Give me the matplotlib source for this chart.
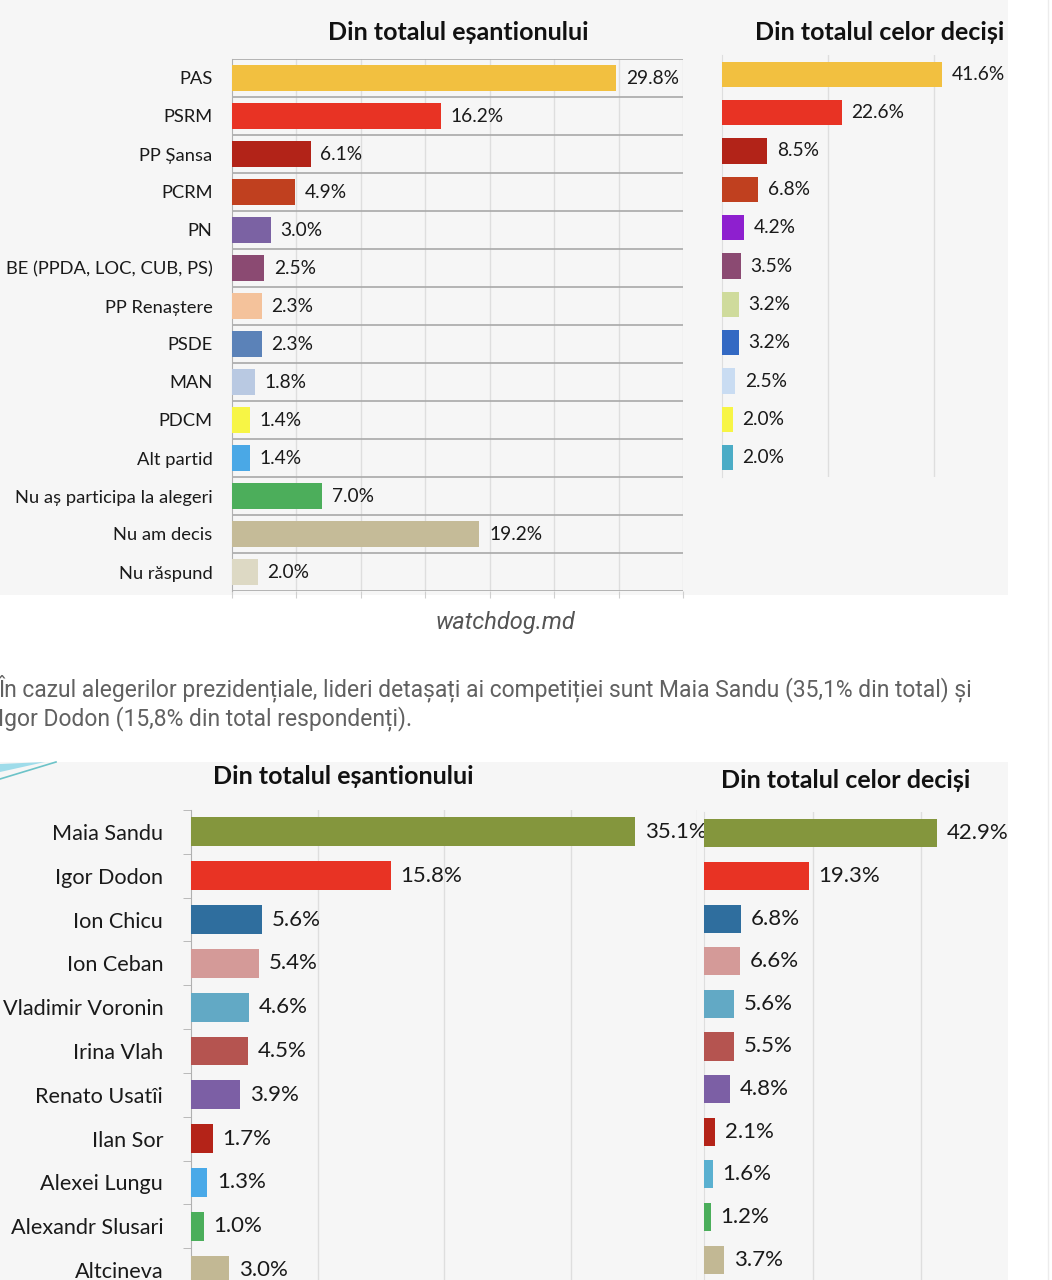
import matplotlib.pyplot as plt
from matplotlib.lines import Line2D
from matplotlib.patches import Rectangle, Polygon

W, H = 1052, 1280

# --- data ---------------------------------------------------------------
party_labels = ["PAS", "PSRM", "PP Șansa", "PCRM", "PN", "BE (PPDA, LOC, CUB, PS)",
                "PP Renaștere", "PSDE", "MAN", "PDCM", "Alt partid",
                "Nu aș participa la alegeri", "Nu am decis", "Nu răspund"]
party_total = [29.8, 16.2, 6.1, 4.9, 3.0, 2.5, 2.3, 2.3, 1.8, 1.4, 1.4, 7.0, 19.2, 2.0]
party_total_colors = ["#f2c040", "#e83324", "#b22318", "#c0401f", "#7b62a3", "#8b4a72",
                      "#f4c29b", "#5b82b8", "#b9c9e2", "#f7f545", "#4aa8e6", "#4cae5b",
                      "#c5bb98", "#ddd9c4"]

party_decided = [41.6, 22.6, 8.5, 6.8, 4.2, 3.5, 3.2, 3.2, 2.5, 2.0, 2.0]
party_decided_colors = ["#f2c040", "#e83324", "#b22318", "#c0401f", "#8e1fcf", "#8b4a72",
                        "#cfdb9c", "#3369c3", "#c9dcf2", "#f7f545", "#4bacc6"]

cand_labels = ["Maia Sandu", "Igor Dodon", "Ion Chicu", "Ion Ceban", "Vladimir Voronin",
               "Irina Vlah", "Renato Usatîi", "Ilan Sor", "Alexei Lungu",
               "Alexandr Slusari", "Altcineva"]
cand_total = [35.1, 15.8, 5.6, 5.4, 4.6, 4.5, 3.9, 1.7, 1.3, 1.0, 3.0]
cand_decided = [42.9, 19.3, 6.8, 6.6, 5.6, 5.5, 4.8, 2.1, 1.6, 1.2, 3.7]
cand_colors = ["#84963d", "#e83324", "#2f6e9e", "#d49a98", "#62a9c5", "#b55450",
               "#7c5fa5", "#b42318", "#49a9e8", "#4bae5b", "#c2b894"]
cand_decided_colors = ["#84963d", "#e83324", "#2f6e9e", "#d49a98", "#62a9c5", "#b55450",
                       "#7c5fa5", "#b42318", "#5ab0d0", "#4bae5b", "#c2b894"]

title_total = "Din totalul eșantionului"
title_decided = "Din totalul celor deciși"
source = "watchdog.md"
paragraph = ["În cazul alegerilor prezidențiale, lideri detașați ai competiției sunt Maia Sandu (35,1% din total) și",
             "Igor Dodon (15,8% din total respondenți)."]

plt.rcParams['font.family'] = ['Lato', 'DejaVu Sans']

fig = plt.figure(figsize=(W / 100, H / 100), dpi=100)
fig.patch.set_facecolor("white")


def px_axes(x0, y0, x1, y1):
    ax = fig.add_axes([x0 / W, 1 - y1 / H, (x1 - x0) / W, (y1 - y0) / H])
    ax.patch.set_alpha(0)
    return ax


def fig_text(x, y, s, **kw):
    fig.text(x / W, 1 - y / H, s, **kw)


# grey backgrounds of the two screenshots
fig.add_artist(Rectangle((0, 1 - 595 / H), 1008 / W, 595 / H, transform=fig.transFigure,
                         facecolor="#f6f6f6", edgecolor="none", zorder=0))
fig.add_artist(Rectangle((0, 0), 1008 / W, (H - 762) / H, transform=fig.transFigure,
                         facecolor="#f6f6f6", edgecolor="none", zorder=0))
fig.add_artist(Line2D([1048 / W, 1048 / W], [0, 1], transform=fig.transFigure,
                      color="#ececec", lw=1))


def bars(ax, values, colors, labels, xmax, step, height, fs, vfs, sep=False, grid_col="#dedede"):
    n = len(values)
    y = list(range(n))
    ax.barh(y, values, height=height, color=colors, zorder=3)
    ax.set_xlim(0, xmax)
    ax.set_ylim(n - 0.5, -0.5)
    for gx in range(step, int(xmax) + 1, step):
        ax.axvline(gx, color=grid_col, lw=1, zorder=1)
    if sep:
        for b in range(n + 1):
            ax.axhline(b - 0.5, color="#a9a9a9", lw=1.2, zorder=2)
    for yi, v in zip(y, values):
        ax.annotate(f"{v:.1f}%", (v, yi), xytext=(7, 0), textcoords="offset points",
                    va="center", ha="left", fontsize=vfs, color="#1a1a1a", zorder=4)
    for s in ["top", "right", "bottom"]:
        ax.spines[s].set_visible(False)
    ax.spines["left"].set_color("#b0b0b0")
    ax.set_xticks([])
    if labels:
        ax.set_yticks(y)
        ax.set_yticklabels(labels, fontsize=fs, color="#1a1a1a")
    else:
        ax.set_yticks([])
    ax.tick_params(axis="y", length=0)


# top-left: parties, whole sample
ax1 = px_axes(232, 59, 683, 591)
bars(ax1, party_total, party_total_colors, party_labels, 35, 5, 0.66, 13.2, 13.8, sep=True)
ax1.tick_params(axis="y", pad=14)
ax1.set_xticks(range(0, 36, 5))
ax1.set_xticklabels([])
ax1.tick_params(axis="x", length=5, color="#cfcfcf")

# top-right: parties, decided voters
ax2 = px_axes(722, 55, 1008, 477)
bars(ax2, party_decided, party_decided_colors, None, 54, 20, 0.66, 13.2, 13.8)
ax2.spines["left"].set_color("#dedede")

fig_text(458, 33, title_total, ha="center", va="center", fontsize=18, fontweight="bold", color="#111111")
fig_text(880, 33, title_decided, ha="center", va="center", fontsize=18, fontweight="bold", color="#111111")

# article text between the charts
fig_text(505, 623, source, ha="center", va="center", fontsize=17, style="italic",
         color="#555555", family=["Roboto", "DejaVu Sans"])
fig_text(-2, 688, paragraph[0], ha="left", va="center", fontsize=16.5,
         color="#616161", family=["Roboto", "DejaVu Sans"])
fig_text(-2, 719, paragraph[1], ha="left", va="center", fontsize=16.5,
         color="#616161", family=["Roboto", "DejaVu Sans"])

# small decoration at the corner of the second screenshot
fig.add_artist(Polygon([(0, 1 - 764 / H), (45 / W, 1 - 762 / H), (0, 1 - 772 / H)],
                       closed=True, transform=fig.transFigure, facecolor="#9fdcea",
                       edgecolor="none"))
fig.add_artist(Line2D([0, 56 / W], [1 - 779 / H, 1 - 762 / H], transform=fig.transFigure,
                      color="#6cc3c8", lw=1.2))

# bottom-left: candidates, whole sample
ax3 = px_axes(191, 810, 697, 1292)
bars(ax3, cand_total, cand_colors, cand_labels, 40, 10, 0.66, 15.6, 16)
ax3.tick_params(axis="y", pad=20)
ax3.set_yticks([b - 0.5 for b in range(len(cand_total) + 1)], minor=True)
ax3.tick_params(axis="y", which="minor", length=6, color="#b0b0b0")

# bottom-right: candidates, decided voters
ax4 = px_axes(704, 812, 1008, 1281)
bars(ax4, cand_decided, cand_decided_colors, None, 56, 20, 0.66, 15.6, 16)
ax4.spines["left"].set_color("#dedede")

fig_text(343, 777, title_total, ha="center", va="center", fontsize=18, fontweight="bold", color="#111111")
fig_text(846, 781, title_decided, ha="center", va="center", fontsize=18, fontweight="bold", color="#111111")

fig.savefig("out.png", dpi=100)
